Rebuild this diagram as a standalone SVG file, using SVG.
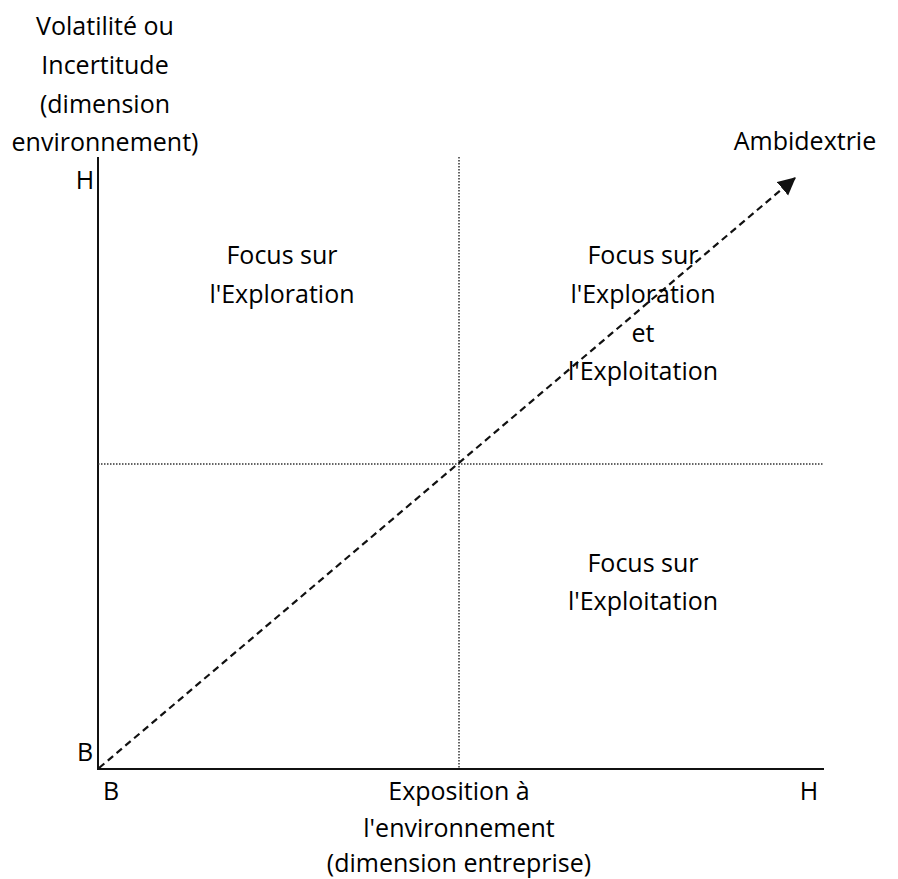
<svg xmlns="http://www.w3.org/2000/svg" width="898" height="879" viewBox="0 0 898 879">
<style>
text{font-family:"Open Sans","Noto Sans","Liberation Sans",sans-serif;font-size:25px;fill:#000;text-anchor:middle}
.axis{stroke:#111;stroke-width:2;fill:none}
.dot{stroke:#333;stroke-width:1.5;stroke-dasharray:1.5 1.5;fill:none}
.dash{stroke:#111;stroke-width:2.2;stroke-dasharray:7 4.5;fill:none}
</style>
<defs>
<marker id="ah" markerWidth="10" markerHeight="10" refX="7.5" refY="4" orient="auto" markerUnits="strokeWidth">
<path d="M0,0 L8,4 L0,8 Z" fill="#111"/>
</marker>
</defs>
<rect width="898" height="879" fill="#fff"/>
<g id="connectors">
<line class="axis" x1="98" y1="157" x2="98" y2="770"/>
<line class="axis" x1="97" y1="769" x2="824" y2="769"/>
<line class="dot" x1="459" y1="157" x2="459" y2="769"/>
<line class="dot" x1="98" y1="464" x2="824" y2="464"/>
<line class="dash" x1="99" y1="768" x2="795" y2="178" marker-end="url(#ah)"/>
</g>
<g id="y-axis-label">
<text x="105" y="35">Volatilité ou</text>
<text x="105" y="74">Incertitude</text>
<text x="105" y="113">(dimension</text>
<text x="105" y="151">environnement)</text>
</g>
<g id="y-high"><text x="85" y="189">H</text></g>
<g id="y-low"><text x="85" y="761">B</text></g>
<g id="x-low"><text x="111" y="800">B</text></g>
<g id="x-high"><text x="809" y="800">H</text></g>
<g id="x-axis-label">
<text x="459" y="800">Exposition à</text>
<text x="459" y="837">l'environnement</text>
<text x="459" y="872">(dimension entreprise)</text>
</g>
<g id="ambidextrie"><text x="805" y="150">Ambidextrie</text></g>
<g id="q-exploration">
<text x="282" y="264">Focus sur</text>
<text x="282" y="303">l'Exploration</text>
</g>
<g id="q-both">
<text x="643" y="264">Focus sur</text>
<text x="643" y="303">l'Exploration</text>
<text x="643" y="342">et</text>
<text x="643" y="380">l'Exploitation</text>
</g>
<g id="q-exploitation">
<text x="643" y="572">Focus sur</text>
<text x="643" y="610">l'Exploitation</text>
</g>
</svg>
